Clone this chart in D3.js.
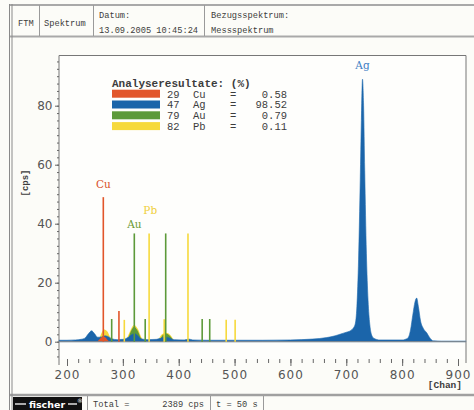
<!DOCTYPE html>
<html>
<head>
<meta charset="utf-8">
<script src="https://cdn.jsdelivr.net/npm/d3@7"></script>
<style>
body { margin: 0; background: #fcfcf8; }
.mono { font-family: "Liberation Mono", "DejaVu Sans Mono", monospace; fill: #3c3c3c; }
.tick text { font-family: "DejaVu Sans", sans-serif; font-size: 12px; fill: #555; }
.tick line { stroke: #666; }
</style>
</head>
<body>
<div id="chart"></div>
<script>

// spectrum as [channel, cps]
var spectrum = [[186,0.5],[200,0.5],[215,0.6],[225,0.8],[232,1.2],[238,2.6],[244,3.7],[249,2.8],[255,1.5],
	[262,1.6],[268,2.0],[273,1.8],[280,1.0],[290,0.7],[300,0.8],[310,1.5],[316,2.4],[321,2.8],[326,2.2],
	[332,1.0],[345,0.7],[360,0.8],[370,1.3],[377,1.6],[384,1.2],[392,0.7],[410,0.6],[418,0.9],[425,0.6],
	[450,0.5],[500,0.5],[550,0.5],[600,0.6],[640,0.9],[665,1.4],[680,2.0],[690,2.6],[700,3.2],[708,3.8],
	[712,4.5],[716,6],[719,12],[722,28],[725,55],[727,75],[729,89],[731,80],[733,58],[736,30],[739,14],
	[742,6],[745,2.5],[749,1.2],[760,0.6],[800,0.6],[810,1.2],[815,4],[819,9],[823,13.5],[826,14.8],
	[829,12],[833,7],[838,4.5],[844,3],[850,1.2],[856,0.3],[870,0.2],[914,0.2]];
var pbFill = [[255,0],[260,1.5],[266,3.4],[272,2.8],[278,0.8],[285,0],[305,0],[312,2.5],[320,4.6],
	[327,3.5],[334,0.8],[340,0],[362,0],[370,2],[377,2.4],[385,1.8],[392,0]];
var auFill = [[308,0],[314,2.5],[320,4.0],[326,3.0],[333,0.6],[340,0],[365,0],[372,1.8],[378,2.1],[386,1.2],[392,0]];
var cuFill = [[254,0],[259,1.0],[264,1.8],[269,1.4],[274,0.3],[278,0]];

// element lines [channel, cps]
var cuLines = [[265,49],[293,10.4]];
var auLines = [[280,7.7],[320.5,36.7],[340,7.7],[376.7,36.7],[442,7.7],[455.5,7.7]];
var pbLines = [[302.6,7.4],[347,36.7],[374,7.6],[416.6,36.7],[485,7.4],[501,7.4]];

var labels = [["Cu",265,52],["Au",320.5,38.5],["Pb",349,43.3],["Ag",729,92.5]];

var results = [["29","Cu","0.58"],["47","Ag","98.52"],["79","Au","0.79"],["82","Pb","0.11"]];
var colors = {Cu: "#e2562a", Ag: "#1b65aa", Au: "#5d9a3a", Pb: "#f6d93c"};
var labelColors = {Cu: "#d8502a", Ag: "#3f7fc4", Au: "#6a9a34", Pb: "#f0cf3a"};

var xTicks = d3.range(200, 901, 100);
var yTicks = d3.range(0, 81, 20);

var width = 474, height = 410;

var svg = d3.select("#chart").append("svg")
	.attr("width", width)
	.attr("height", height);

// frame
svg.append("line").attr("x1", 9).attr("x2", width).attr("y1", 5).attr("y2", 5).attr("stroke", "#a9a9a9").attr("stroke-width", 2);
svg.append("line").attr("x1", 9).attr("x2", width).attr("y1", 36.5).attr("y2", 36.5).attr("stroke", "#a9a9a9").attr("stroke-width", 2);
svg.append("line").attr("x1", 9).attr("x2", width).attr("y1", 395).attr("y2", 395).attr("stroke", "#a0a0a0").attr("stroke-width", 2.5);
[9.5, 12].forEach(function(xx) {
	svg.append("line").attr("x1", xx).attr("x2", xx).attr("y1", 4).attr("y2", height).attr("stroke", "#8a8a8a").attr("stroke-width", 1);
});
[39.5, 93.5, 204.5].forEach(function(xx) {
	svg.append("line").attr("x1", xx).attr("x2", xx).attr("y1", 5).attr("y2", 36).attr("stroke", "#9a9a9a");
});
[87.5, 210.5, 263.5].forEach(function(xx) {
	svg.append("line").attr("x1", xx).attr("x2", xx).attr("y1", 396).attr("y2", height).attr("stroke", "#9a9a9a");
});

// header texts
var head = [["FTM", 18, 26], ["Spektrum", 44, 26], ["Datum:", 99, 18], ["13.09.2005 10:45:24", 99, 33],
	["Bezugsspektrum:", 211, 18], ["Messspektrum", 211, 33]];
svg.selectAll(".head").data(head).enter().append("text")
	.attr("class", "mono").attr("font-size", "8.7px")
	.attr("x", function(d) { return d[1]; }).attr("y", function(d) { return d[2]; })
	.text(function(d) { return d[0]; });

// footer
svg.append("rect").attr("x", 13).attr("y", 397).attr("width", 69).attr("height", 13).attr("fill", "#111");
svg.append("text").attr("x", 47).attr("y", 408).attr("text-anchor", "middle")
	.attr("font-family", "DejaVu Sans, sans-serif").attr("font-weight", "bold").attr("font-size", "9.5px")
	.attr("fill", "#fff").text("fischer");
svg.append("line").attr("x1", 15).attr("x2", 26).attr("y1", 404).attr("y2", 404).attr("stroke", "#fff").attr("stroke-width", 1.3);
svg.append("line").attr("x1", 68).attr("x2", 77).attr("y1", 404).attr("y2", 404).attr("stroke", "#fff").attr("stroke-width", 1.3);
svg.append("text").attr("x", 77).attr("y", 403).attr("font-size", "6px").attr("fill", "#fff")
	.attr("font-family", "DejaVu Sans, sans-serif").text("®");
svg.append("text").attr("class", "mono").attr("font-size", "8.7px").attr("x", 93).attr("y", 407).text("Total =");
svg.append("text").attr("class", "mono").attr("font-size", "8.7px").attr("x", 204).attr("y", 407)
	.attr("text-anchor", "end").text("2389 cps");
svg.append("text").attr("class", "mono").attr("font-size", "8.7px").attr("x", 216).attr("y", 407).text("t = 50 s");

// plot
var x = d3.scaleLinear().domain([200, 900]).range([67, 458]);
var y = d3.scaleLinear().domain([0, 80]).range([341.7, 105.7]);
var plotLeft = 59, plotRight = 466, plotTop = 55.5;

svg.append("rect").attr("x", plotLeft).attr("y", plotTop).attr("width", plotRight - plotLeft).attr("height", 304)
	.attr("fill", "#fefefc");
svg.append("line").attr("x1", plotLeft).attr("x2", plotRight).attr("y1", plotTop).attr("y2", plotTop).attr("stroke", "#777");
svg.append("line").attr("x1", plotLeft).attr("x2", plotLeft).attr("y1", plotTop).attr("y2", 365).attr("stroke", "#777");
svg.append("line").attr("x1", plotRight).attr("x2", plotRight).attr("y1", plotTop).attr("y2", 363).attr("stroke", "#777");

var area = d3.area().curve(d3.curveMonotoneX)
	.x(function(d) { return x(d[0]); })
	.y0(y(0))
	.y1(function(d) { return y(d[1]); });

// fills split into bumps so the zero points close each one
function bumps(pts) {
	var out = [], cur = [];
	pts.forEach(function(p) {
		cur.push(p);
		if (p[1] === 0 && cur.length > 1) { out.push(cur); cur = []; }
	});
	return out;
}
function stacked(pts) {
	// sit the element fills on top of the blue spectrum
	var base = d3.scaleLinear().domain(spectrum.map(function(d) { return d[0]; }))
		.range(spectrum.map(function(d) { return d[1]; }));
	return pts.map(function(p) { return [p[0], p[1] === 0 ? 0 : p[1] + base(p[0]) * 0.4]; });
}

bumps(stacked(pbFill)).forEach(function(b) {
	svg.append("path").attr("d", area(b)).attr("fill", colors.Pb);
});
bumps(stacked(auFill)).forEach(function(b) {
	svg.append("path").attr("d", area(b)).attr("fill", colors.Au);
});
svg.append("path").attr("d", area(spectrum)).attr("fill", colors.Ag)
	.attr("stroke", "#1f6aae").attr("stroke-width", 0.6);
bumps(cuFill).forEach(function(b) {
	svg.append("path").attr("d", area(b)).attr("fill", colors.Cu);
});

svg.append("line").attr("x1", plotLeft).attr("x2", plotRight).attr("y1", y(0)).attr("y2", y(0))
	.attr("stroke", "#8a8a8a").attr("stroke-width", 1);

function drawLines(data, c) {
	svg.selectAll(null).data(data).enter().append("line")
		.attr("x1", function(d) { return x(d[0]); }).attr("x2", function(d) { return x(d[0]); })
		.attr("y1", y(0)).attr("y2", function(d) { return y(d[1]); })
		.attr("stroke", c).attr("stroke-width", 1.6);
}
drawLines(pbLines, colors.Pb);
drawLines(auLines, colors.Au);
drawLines(cuLines, colors.Cu);

svg.selectAll(".elabel").data(labels).enter().append("text")
	.attr("x", function(d) { return x(d[1]); }).attr("y", function(d) { return y(d[2]); })
	.attr("text-anchor", "middle")
	.attr("font-family", "DejaVu Serif, serif").attr("font-size", "10.5px")
	.attr("fill", function(d) { return labelColors[d[0]]; })
	.text(function(d) { return d[0]; });

// axes
var yAxis = svg.append("g").attr("transform", "translate(" + plotLeft + ",0)")
	.call(d3.axisLeft(y).tickValues(d3.range(-5, 96, 2.5)).tickSize(2).tickFormat(""));
yAxis.select(".domain").remove();
var yAxis2 = svg.append("g").attr("transform", "translate(" + plotLeft + ",0)")
	.call(d3.axisLeft(y).tickValues(yTicks).tickSize(4).tickPadding(2.5));
yAxis2.select(".domain").remove();

var xAxis = svg.append("g").attr("transform", "translate(0,359)")
	.call(d3.axisBottom(x).tickValues(d3.range(200, 901, 20)).tickSize(4).tickFormat(""));
xAxis.select(".domain").remove();
var xAxis2 = svg.append("g").attr("transform", "translate(0,359)")
	.call(d3.axisBottom(x).tickValues(xTicks).tickSize(7).tickPadding(4));
xAxis2.select(".domain").remove();
xAxis2.selectAll("text").attr("letter-spacing", "1px").attr("font-size", "12.5px");

svg.append("text").attr("class", "mono").attr("font-weight", "bold").attr("font-size", "9px")
	.attr("transform", "translate(28,183) rotate(-90)").attr("text-anchor", "middle").text("[cps]");
svg.append("text").attr("class", "mono").attr("font-weight", "bold").attr("font-size", "9.5px")
	.attr("x", 462).attr("y", 388).attr("text-anchor", "end").text("[Chan]");

// legend
svg.append("text").attr("class", "mono").attr("font-weight", "bold").attr("font-size", "11px")
	.attr("x", 112).attr("y", 87).text("Analyseresultate: (%)");
var rows = svg.selectAll(".row").data(results).enter().append("g")
	.attr("transform", function(d, i) { return "translate(0," + (93.7 + i * 10.8) + ")"; });
rows.append("rect").attr("x", 112).attr("y", -4).attr("width", 48).attr("height", 8)
	.attr("fill", function(d) { return colors[d[1]]; });
rows.append("text").attr("class", "mono").attr("font-size", "10.5px").attr("x", 167).attr("y", 3.8)
	.text(function(d) { return d[0]; });
rows.append("text").attr("class", "mono").attr("font-size", "10.5px").attr("x", 193).attr("y", 3.8)
	.text(function(d) { return d[1]; });
rows.append("text").attr("class", "mono").attr("font-size", "10.5px").attr("x", 230).attr("y", 3.8)
	.text("=");
rows.append("text").attr("class", "mono").attr("font-size", "10.5px").attr("x", 287).attr("y", 3.8)
	.attr("text-anchor", "end").text(function(d) { return d[2]; });
</script>
</body>
</html>
